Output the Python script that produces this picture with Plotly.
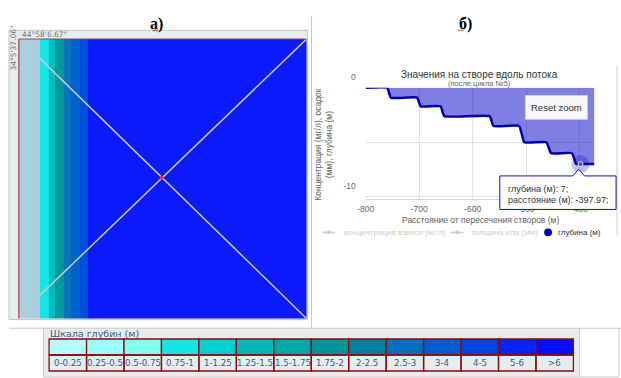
import plotly.graph_objects as go

W, H = 621, 378


def X(p):
    return p / W


def Y(p):
    return 1 - p / H


# ---------------- data ----------------
# map (panel a): depth strips across the map, in map units
map_strip_edges = [0, 21, 30, 37, 46, 53, 62, 70, 292]
map_strip_colors = ["#aad0e0", "#16e6e6", "#00bebe", "#009a9a", "#0a72bc",
                    "#0062cc", "#0050e0", "#0a1af8"]
stvor_a_x = [21, 292]
stvor_a_y = [272, 0]
stvor_b_x = [21, 292]
stvor_b_y = [24, 292]
cross_x = [145]
cross_y = [147]

# profile (panel b)
dist = [-800, -760, -753, -704, -697, -660, -653, -568, -561, -513, -503,
        -462, -453, -414, -406, -398, -372]
depth = [0, 0, 0.9, 0.9, 1.7, 1.7, 2.6, 2.6, 3.5, 3.5, 5.0,
         5.0, 6.0, 6.0, 7.0, 7.0, 7.0]
hover_dist = -397.97
hover_depth = 7

x_ticks = [-800, -700, -600, -500, -400]
y_ticks = [0, -5, -10]
y_tick_text = ["0", "", "-10"]

legend_names = ["концентрация взвеси (мг/л)", "толщина ила (мм)", "глубина (м)"]

scale_labels = ["0-0.25", "0.25-0.5", "0.5-0.75", "0.75-1", "1-1.25", "1.25-1.5",
                "1.5-1.75", "1.75-2", "2-2.5", "2.5-3", "3-4", "4-5", "5-6", ">6"]
scale_colors = ["#b4ffff", "#99ffff", "#7fffec", "#14e6e6", "#00d0d0", "#00b8b8",
                "#00a8a8", "#009696", "#0082a2", "#0070bc", "#005cd0", "#0044e4",
                "#0024f6", "#0010ff"]

fig = go.Figure()

# ---------------- panel a: map ----------------
n = len(map_strip_colors)
cs = []
for i, c in enumerate(map_strip_colors):
    cs.append([i / n, c])
    cs.append([(i + 1) / n, c])
fig.add_trace(go.Heatmap(
    x=map_strip_edges, y=[0, 292], z=[list(range(n))],
    colorscale=cs, zmin=-0.5, zmax=n - 0.5, showscale=False,
    hoverinfo="skip", xaxis="x", yaxis="y"))
for sx, sy in ((stvor_a_x, stvor_a_y), (stvor_b_x, stvor_b_y)):
    fig.add_trace(go.Scatter(x=sx, y=sy, mode="lines",
                             line=dict(color="#c4c8d8", width=1.5),
                             hoverinfo="skip", showlegend=False,
                             xaxis="x", yaxis="y"))
fig.add_trace(go.Scatter(x=cross_x, y=cross_y, mode="markers",
                         marker=dict(color="#ff2020", size=4),
                         hoverinfo="skip", showlegend=False, xaxis="x", yaxis="y"))

# ---------------- panel b: profile ----------------
neg_depth = [-d for d in depth]
fig.add_trace(go.Scatter(x=dist, y=neg_depth, mode="lines", fill="tozeroy",
                         fillcolor="rgba(0,0,200,0.5)",
                         line=dict(color="#0000b0", width=2.5, shape="spline",
                                   smoothing=0.4),
                         hoverinfo="skip", showlegend=False,
                         xaxis="x2", yaxis="y2"))
fig.add_trace(go.Scatter(x=[hover_dist], y=[-hover_depth], mode="markers",
                         marker=dict(color="rgba(0,0,200,0.25)", size=18),
                         hoverinfo="skip", showlegend=False,
                         xaxis="x2", yaxis="y2"))
fig.add_trace(go.Scatter(x=[hover_dist], y=[-hover_depth], mode="markers",
                         marker=dict(color="#5050c8", size=5,
                                     line=dict(color="#e0e0f0", width=1)),
                         hoverinfo="skip", showlegend=False,
                         xaxis="x2", yaxis="y2"))

axis_font = dict(family="Liberation Sans, Arial", size=8.5, color="#666666")
hidden = dict(showgrid=False, zeroline=False, showticklabels=False,
              showline=False, ticks="", fixedrange=True)

fig.update_layout(
    width=W, height=H, margin=dict(l=0, r=0, t=0, b=0, pad=0),
    paper_bgcolor="white", plot_bgcolor="white", showlegend=False,
    hovermode=False,
    xaxis=dict(domain=[X(10), X(302)], range=[0, 292], anchor="y", **hidden),
    yaxis=dict(domain=[Y(316), Y(24)], range=[0, 292], anchor="x", **hidden),
    xaxis2=dict(domain=[X(362), X(594)], range=[-800, -372], anchor="y2",
                tickvals=x_ticks, ticktext=[str(v) for v in x_ticks],
                showgrid=True, gridcolor="#e2e2e2", gridwidth=1,
                zeroline=False, showline=True, linecolor="#ccd6eb",
                linewidth=1, ticks="", tickfont=axis_font,
                ticklabelstandoff=2, fixedrange=True),
    yaxis2=dict(domain=[Y(191), Y(75)], range=[-10.2, 0], anchor="x2",
                tickvals=y_ticks, ticktext=y_tick_text,
                showgrid=True, gridcolor="#dfe3ee", gridwidth=1,
                zeroline=False, showline=False, ticks="", tickfont=axis_font,
                ticklabelshift=-11, ticklabelstandoff=9, fixedrange=True),
)

shapes = []
ann = []


def line(x0, y0, x1, y1, color="#c8c8c8", width=1):
    shapes.append(dict(type="line", xref="paper", yref="paper",
                       x0=X(x0), y0=Y(y0), x1=X(x1), y1=Y(y1),
                       line=dict(color=color, width=width)))


def rect(x0, y0, x1, y1, fill, lc="rgba(0,0,0,0)", lw=0, layer="above"):
    shapes.append(dict(type="rect", xref="paper", yref="paper",
                       x0=X(x0), y0=Y(y1), x1=X(x1), y1=Y(y0),
                       fillcolor=fill, line=dict(color=lc, width=lw), layer=layer))


def text(x, y, s, size, color, family="Liberation Sans, Arial", xanchor="center",
         angle=0, bold=False):
    if bold:
        s = "<b>" + s + "</b>"
    ann.append(dict(x=X(x), y=Y(y), xref="paper", yref="paper", text=s,
                    showarrow=False, xanchor=xanchor, yanchor="middle",
                    textangle=angle,
                    font=dict(size=size, color=color, family=family)))


def squiggle(x0, x1, y):
    pts = []
    x = x0
    k = 0
    while x <= x1 + 0.01:
        pts.append((X(x), Y(y + (1.2 if k % 2 else -0.3))))
        x += 1.5
        k += 1
    path = "M " + " L ".join("{} {}".format(a, b) for a, b in pts)
    shapes.append(dict(type="path", xref="paper", yref="paper", path=path,
                       line=dict(color="#d02020", width=1)))


# map frame
rect(0, 15, 303, 317, "#e6eeed", "#c4c4c4", 1, layer="below")
line(10, 24, 10, 316, "#b03a3a", 1.2)
line(10, 24, 302, 24, "#b03a3a", 1.2)
text(11, 19, "44°58'6.67\"", 7.5, "#707070", family="DejaVu Sans", xanchor="left")
text(5, 33, "34°5'37.06\"", 7.5, "#707070", family="DejaVu Sans", angle=-90)

# table dividers
line(307, 0, 307, 326)
line(0, 326, 621, 326)
line(617, 52, 617, 230, "#d0d0d0")
rect(35, 326, 579, 377, "#e6eeed", layer="below")
line(35, 326, 35, 377)
line(579, 326, 579, 377)
line(619, 326, 619, 377)
line(35, 377, 619, 377)

# headings
text(150, 8, "а)", 16, "#000000", family="Liberation Serif, Times New Roman", bold=True)
text(463, 8, "б)", 16, "#000000", family="Liberation Serif, Times New Roman", bold=True)
squiggle(145.5, 151.5, 14.5)
squiggle(455.5, 462.5, 14.5)

# chart texts
text(477, 61, "Значения на створе вдоль потока", 10, "#333333")
text(477, 70, "(после цикла №5)", 7.5, "#666666")
text(478, 213.5, "Расстояние от пересечения створов (м)", 8.5, "#606060")
text(319, 134, "Концентрация (мг/л), осадок<br>(мм), глубина (м)", 8.5, "#606060",
     angle=-90)

# reset zoom button
rect(524, 83, 587, 108, "#f7f7f7", "#cccccc", 1)
text(555.5, 95.5, "Reset zoom", 9.5, "#333333")

# tooltip
tip = "M {} {} L {} {} L {} {} L {} {} L {} {} L {} {} L {} {} Z".format(
    X(498), Y(167), X(572), Y(167), X(578), Y(160), X(584), Y(167),
    X(616), Y(167), X(616), Y(202), X(498), Y(202))
shapes.append(dict(type="path", xref="paper", yref="paper", path=tip,
                   fillcolor="rgba(255,255,255,0.95)",
                   line=dict(color="#1010c0", width=1)))
text(504, 181, "глубина (м): {:g};".format(hover_depth), 9, "#333333", xanchor="left")
text(504, 192, "расстояние (м): {:.2f};".format(hover_dist), 9, "#333333",
     xanchor="left")

# chart legend
leg_x = [(318, 338), (448, 467)]
for (sx, tx), name in zip(leg_x, legend_names[:2]):
    line(sx, 226, sx + 13, 226, "#cccccc", 1.5)
    shapes.append(dict(type="circle", xref="paper", yref="paper",
                       x0=X(sx + 4.5), y0=Y(228), x1=X(sx + 8.5), y1=Y(224),
                       fillcolor="#cccccc", line=dict(width=0)))
    text(tx, 226, name, 8, "#cccccc", xanchor="left")
shapes.append(dict(type="circle", xref="paper", yref="paper",
                   x0=X(543), y0=Y(230), x1=X(551), y1=Y(222),
                   fillcolor="#0000b0", line=dict(width=0)))
text(555, 226, legend_names[2], 8, "#333333", xanchor="left")

# depth scale legend
text(40, 332, "Шкала глубин (м)", 9.5, "#34598a", family="DejaVu Sans", xanchor="left")
cell_x0, cell_w = 40.7, 38.0
for i, (lab, col) in enumerate(zip(scale_labels, scale_colors)):
    x0 = cell_x0 + i * cell_w
    rect(x0, 337.3, x0 + cell_w, 354, col, "#8b0a0a", 1.3)
    rect(x0, 354, x0 + cell_w, 370.7, "rgba(0,0,0,0)", "#8b0a0a", 1.3)
    text(x0 + cell_w / 2, 362.5, lab, 8.6, "#34598a", family="DejaVu Sans")

fig.update_layout(shapes=shapes, annotations=ann)
fig.write_html(
    "out.html", config={"displayModeBar": False},
    post_script="document.body.style.margin='0';"
                "document.body.style.overflow='hidden';"
                "document.documentElement.style.overflow='hidden';")
